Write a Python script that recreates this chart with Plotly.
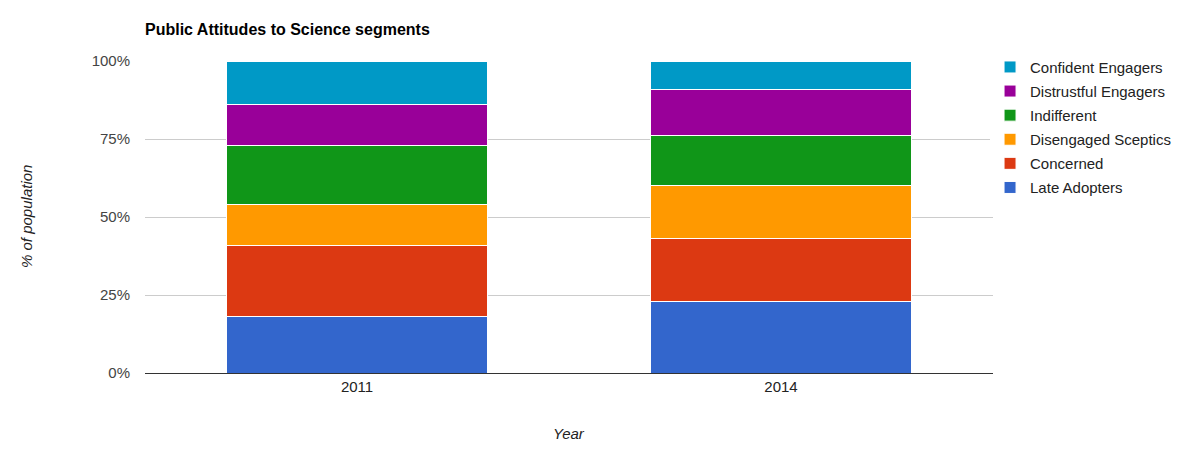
import plotly.graph_objects as go

years = ["2011", "2014"]
segments = ["Late Adopters", "Concerned", "Disengaged Sceptics", "Indifferent",
            "Distrustful Engagers", "Confident Engagers"]
values = {
    "Late Adopters": [18, 23],
    "Concerned": [23, 20],
    "Disengaged Sceptics": [13, 17],
    "Indifferent": [19, 16],
    "Distrustful Engagers": [13, 15],
    "Confident Engagers": [14, 9],
}
colors = {
    "Late Adopters": "#3366cc",
    "Concerned": "#dc3912",
    "Disengaged Sceptics": "#ff9900",
    "Indifferent": "#109618",
    "Distrustful Engagers": "#990099",
    "Confident Engagers": "#0099c6",
}
y_ticks = [0, 25, 50, 75, 100]
y_tick_labels = ["0%", "25%", "50%", "75%", "100%"]

FONT = "Liberation Sans, Arial, sans-serif"

fig = go.Figure()
n = len(segments)
for i, s in enumerate(segments):
    fig.add_trace(go.Bar(
        x=years, y=values[s], name=s, legendgroup=s, legendrank=n - i,
        marker=dict(color=colors[s], line=dict(color="white", width=1)),
    ))

fig.update_layout(
    barmode="stack",
    bargap=0.384,
    width=1175, height=440,
    margin=dict(l=137, r=190, t=53, b=75, autoexpand=False),
    paper_bgcolor="white", plot_bgcolor="white",
    font=dict(family=FONT, size=15, color="#222"),
    showlegend=True,
    legend=dict(
        traceorder="grouped", tracegroupgap=1.6,
        x=0.9965, xanchor="left", y=1.033, yanchor="top",
        font=dict(family=FONT, size=15, color="#222"),
        itemclick=False,
    ),
    xaxis=dict(
        showgrid=False, showline=True, linecolor="#333", linewidth=1,
        ticks="", tickfont=dict(size=15, color="#222"),
    ),
    yaxis=dict(
        range=[0, 100], tickvals=y_ticks, ticktext=y_tick_labels,
        gridcolor="#cccccc", gridwidth=1, zeroline=False,
        showline=False, ticks="", ticklabelstandoff=14,
        tickfont=dict(size=15, color="#444"),
    ),
    annotations=[
        dict(text="<b>Public Attitudes to Science segments</b>", xref="paper", yref="paper",
             x=0, y=1, xanchor="left", yanchor="bottom", yshift=21, xshift=-2,
             showarrow=False, font=dict(family=FONT, size=16, color="#000")),
        dict(text="<i>Year</i>", xref="paper", yref="paper", x=0.5, y=0,
             xanchor="center", yanchor="middle", yshift=-60, showarrow=False,
             font=dict(family=FONT, size=15, color="#222")),
        dict(text="<i>% of population</i>", xref="paper", yref="paper", x=0, y=0.5,
             xanchor="center", yanchor="middle", xshift=-119, textangle=-90,
             showarrow=False, font=dict(family=FONT, size=15, color="#222")),
    ],
)

fig.write_html("out.html")
